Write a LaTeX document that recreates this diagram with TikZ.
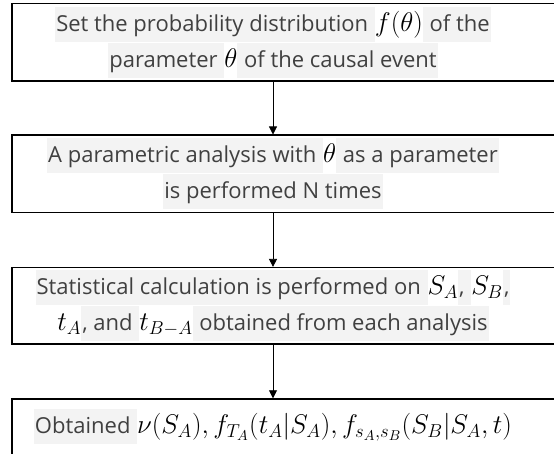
\documentclass[tikz,border=0pt]{standalone}
\usepackage{graphicx}
\usepackage{fontspec}
\setmainfont{Open Sans}
\definecolor{TextGray}{RGB}{64,64,64}
\definecolor{HiliteGray}{RGB}{243,243,243}
\usetikzlibrary{positioning,arrows.meta}
\newcommand{\hl}[1]{{\setlength{\fboxsep}{1pt}\colorbox{HiliteGray}{\strut#1}}}
\newcommand{\mth}[1]{{\color{black}\scalebox{1.3}{$#1$}}}

\begin{document}
\begin{tikzpicture}[
      x=1pt, y=-1pt,
      every node/.style={font=\fontsize{22}{33}\selectfont, text=TextGray, align=center},
      stage/.style     ={minimum width=522pt, inner sep=0pt},
      frame/.style     ={draw=black, line width=1.4pt},
      flow/.style      ={-{Triangle[width=8pt,length=8pt]}, line width=0.8pt, shorten >=0.7pt},
  ]
  \useasboundingbox (0,0) rectangle (554,454);

  % - steps, top to bottom -
  \node[stage, minimum height=77pt] at (273,42.5) (setdist)
        {\hl{Set the probability distribution\ }\mth{f(\theta)}\hl{\ of the}\\
         \hl{parameter\ }\mth{\theta}\hl{\ of the causal event}};
  \node[stage, minimum height=77pt, below=54pt of setdist] (param)
        {\hl{A parametric analysis with\ }\mth{\theta}\hl{\ as a parameter}\\
         \hl{is performed N times}};
  \node[stage, minimum height=76pt, below=55pt of param] (stats)
        {\hl{Statistical calculation is performed on\ }\mth{S_A}\hl{,\ }\mth{S_B}\hl{,}\\
         \mth{t_A}\hl{, and\ }\mth{t_{B-A}}\hl{\ obtained from each analysis}};
  \node[stage, minimum height=55pt, below=55pt of stats] (result)
        {\hl{Obtained\ }\mth{\nu(S_A), f_{T_A}(t_A|S_A), f_{s_A,s_B}(S_B|S_A,t)}};

  % - frames (run past the right edge) -
  \foreach \s in {setdist,param,stats,result}
    \draw[frame] (\s.north west) rectangle ([xshift=26pt]\s.south east);

  % - arrows -
  \draw[flow] (setdist) -- (param);
  \draw[flow] (param) -- (stats);
  \draw[flow] (stats) -- (result);
\end{tikzpicture}
\end{document}
